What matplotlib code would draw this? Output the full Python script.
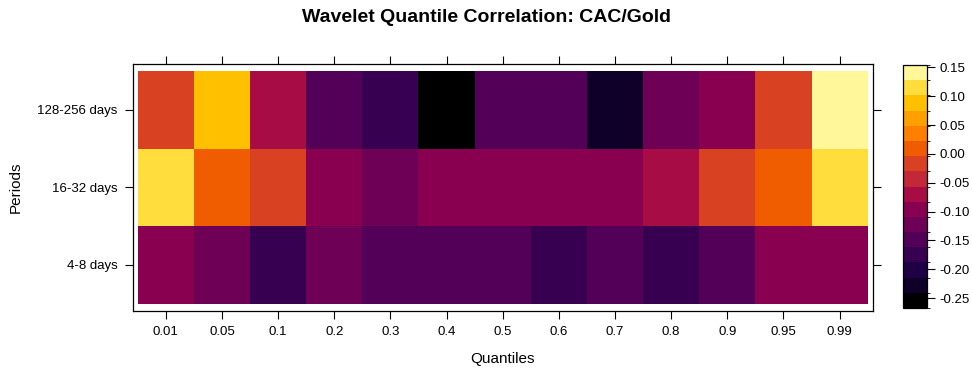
import numpy as np
import matplotlib
matplotlib.use("Agg")
import matplotlib.pyplot as plt
from matplotlib.colors import ListedColormap, BoundaryNorm

quantiles = ["0.01", "0.05", "0.1", "0.2", "0.3", "0.4", "0.5", "0.6", "0.7", "0.8", "0.9", "0.95", "0.99"]
periods = ["4-8 days", "16-32 days", "128-256 days"]

corr_4_8 = [-0.095, -0.120, -0.180, -0.118, -0.150, -0.150, -0.150, -0.178, -0.150, -0.178, -0.145, -0.095, -0.095]
corr_16_32 = [0.120, 0.010, -0.020, -0.095, -0.118, -0.095, -0.095, -0.095, -0.095, -0.065, -0.020, 0.010, 0.120]
corr_128_256 = [-0.020, 0.090, -0.068, -0.150, -0.180, -0.267, -0.150, -0.150, -0.228, -0.120, -0.095, -0.020, 0.154]

cbar_ticks = [-0.25, -0.20, -0.15, -0.10, -0.05, 0.00, 0.05, 0.10, 0.15]

band_colors = ["#000000", "#0E0028", "#200044", "#380050", "#520058", "#6E0056",
               "#8A0050", "#A80C44", "#C22838", "#D84222", "#F05C00", "#FF8000",
               "#FFA000", "#FFC000", "#FFDD3C", "#FFF79A"]

Z = np.array([corr_4_8, corr_16_32, corr_128_256])
zmin, zmax = Z.min(), Z.max()
levels = np.linspace(zmin, zmax, len(band_colors) + 1)
cmap = ListedColormap(band_colors)
norm = BoundaryNorm(levels, cmap.N)

plt.rcParams['font.family'] = ['Liberation Sans', 'DejaVu Sans']

fig = plt.figure(figsize=(9.72, 3.71), dpi=100)
ax = fig.add_axes([0.1365, 0.1625, 0.7614, 0.665])
x = np.arange(len(quantiles) + 1) - 0.5
y = np.arange(len(periods) + 1) - 0.5
ax.pcolormesh(x, y, Z, cmap=cmap, norm=norm, shading='flat')
ax.set_xlim(-0.59, len(quantiles) - 0.41)
ax.set_ylim(-0.59, len(periods) - 0.41)
ax.set_xticks(np.arange(len(quantiles)))
ax.set_xticklabels(quantiles)
ax.set_yticks(np.arange(len(periods)))
ax.set_yticklabels(periods)
ax.tick_params(axis='both', direction='out', length=6, width=0.8, labelsize=9.5, pad=5,
               top=True, right=True, labeltop=False, labelright=False)
for s in ax.spines.values():
    s.set_linewidth(0.9)
ax.set_xlabel("Quantiles", fontsize=11, labelpad=10)
ax.set_ylabel("Periods", fontsize=11, labelpad=10)

cax = fig.add_axes([903.3 / 972, 1 - 308 / 371, 24 / 972, (308 - 65) / 371])
sm = matplotlib.cm.ScalarMappable(cmap=cmap, norm=norm)
cb = fig.colorbar(sm, cax=cax, boundaries=levels, ticks=cbar_ticks)
cb.ax.set_yticklabels([f"{t:.2f}" for t in cbar_ticks])
cb.ax.tick_params(direction='out', length=6, width=0.8, labelsize=9.5, pad=3)
cb.outline.set_linewidth(0.9)

fig.text(0.5, 1 - 18 / 371, "Wavelet Quantile Correlation: CAC/Gold",
         ha='center', va='center', fontsize=14, fontweight='bold')

fig.savefig("out.png", dpi=100)
